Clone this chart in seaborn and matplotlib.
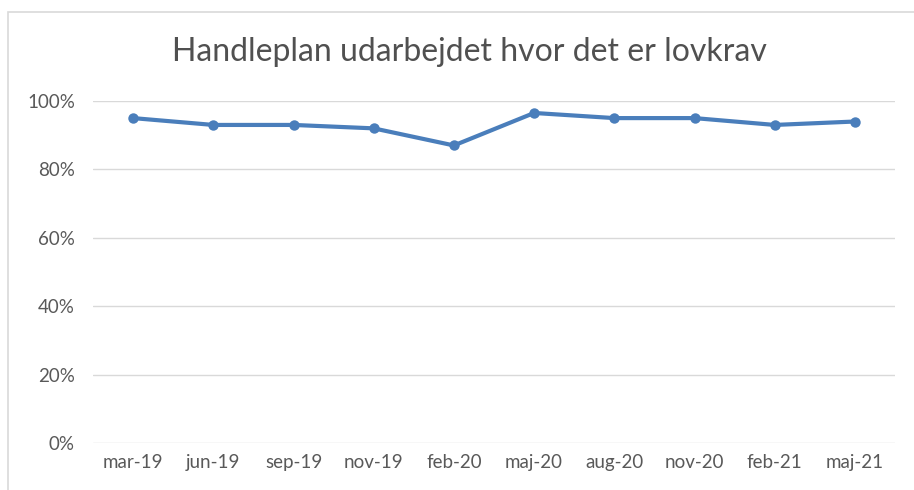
import matplotlib
matplotlib.use("Agg")
import matplotlib.pyplot as plt
import matplotlib.patches as patches
from matplotlib.ticker import PercentFormatter
import seaborn as sns
import pandas as pd

# data
periods = ["mar-19", "jun-19", "sep-19", "nov-19", "feb-20",
           "maj-20", "aug-20", "nov-20", "feb-21", "maj-21"]
share = [0.95, 0.93, 0.93, 0.92, 0.87, 0.965, 0.95, 0.95, 0.93, 0.94]

df = pd.DataFrame({"periode": periods, "andel": share})

sns.set_theme(style="white")
plt.rcParams["font.family"] = ["Lato", "DejaVu Sans"]

fig = plt.figure(figsize=(9.14, 4.9), dpi=100)
ax = fig.add_axes([93 / 914, 1 - 443 / 490, 802 / 914, 342 / 490])

sns.lineplot(data=df, x="periode", y="andel", ax=ax, sort=False,
             color="#4a7ebb", linewidth=3, marker="o", markersize=7.5,
             markeredgewidth=0)

ax.set_ylim(0, 1)
ax.set_xlim(-0.5, len(periods) - 0.5)
ax.set_yticks([0, 0.2, 0.4, 0.6, 0.8, 1.0])
ax.yaxis.set_major_formatter(PercentFormatter(1.0, decimals=0))
ax.grid(axis="y", color="#d9d9d9", linewidth=1)
ax.set_axisbelow(True)
for s in ax.spines.values():
    s.set_visible(False)
ax.tick_params(axis="both", length=0, labelsize=13.5, labelcolor="#595959")
ax.tick_params(axis="y", pad=13)
ax.tick_params(axis="x", pad=8)
ax.set_xlabel("")
ax.set_ylabel("")

fig.text(469 / 914, 1 - 52 / 490, "Handleplan udarbejdet hvor det er lovkrav",
         ha="center", va="center", fontsize=23, color="#505050")

# chart frame, cut off at right and bottom like the screenshot
frame = patches.Rectangle((8 / 914, -0.1), 1.2, 1 - 12 / 490 + 0.1,
                          transform=fig.transFigure, fill=False,
                          edgecolor="#d9d9d9", linewidth=1.2)
fig.patches.append(frame)

fig.savefig("out.png", dpi=100)
